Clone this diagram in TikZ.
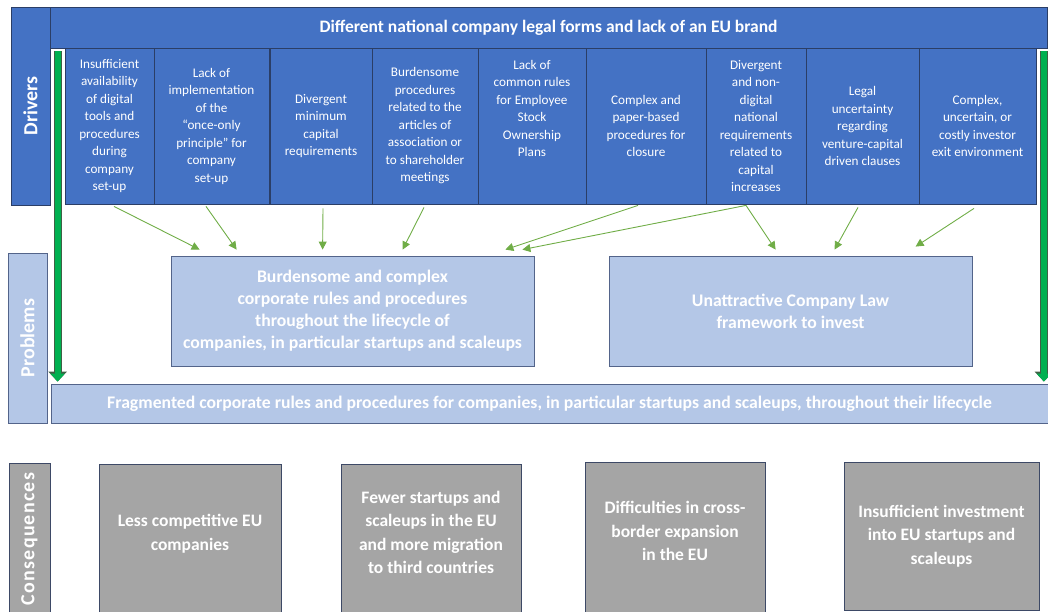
\documentclass[tikz,border=0pt]{standalone}
\usepackage{fontspec}
\usepackage{graphicx}
\setmainfont{Carlito}
\newfontfamily\spacedfont[LetterSpace=6]{Carlito}
\usetikzlibrary{arrows.meta,calc,positioning}

\definecolor{drvblue}{HTML}{4472C4}
\definecolor{drvline}{HTML}{2B3E66}
\definecolor{prbfill}{HTML}{B4C7E7}
\definecolor{prbline}{HTML}{53648A}
\definecolor{csqfill}{HTML}{A5A5A5}
\definecolor{csqline}{HTML}{3D4966}
\definecolor{lightgreen}{HTML}{70AD47}
\definecolor{boldgreen}{HTML}{00B050}
\definecolor{darkrim}{HTML}{3F5F45}

\tikzset{
  drvbox/.style={draw=drvline, fill=drvblue, text=white, align=center, inner sep=0pt, line width=0.8pt, minimum height=156pt, font=\fontsize{13.2}{17.5}\selectfont},
  sidelabel/.style={draw=drvline, inner sep=0pt, line width=0.8pt, text=white, font=\fontsize{20}{24}\selectfont\bfseries},
  prbbox/.style={draw=prbline, fill=prbfill, text=white, align=center, inner sep=0pt, line width=0.8pt, font=\fontsize{17.7}{22}\selectfont\bfseries},
  csqbox/.style={draw=csqline, fill=csqfill, text=white, align=center, inner sep=0pt, line width=0.8pt, font=\fontsize{17.5}{23.5}\selectfont\bfseries},
  thinarr/.style={draw=lightgreen, line width=0.9pt, -{Triangle[width=8pt,length=8pt]}},
  bigarr/.style={draw=boldgreen, line width=6pt, -{Triangle[width=14pt,length=8pt]}, preaction={draw=darkrim, line width=8pt, -{Triangle[width=18pt,length=10pt]}}}
}

\begin{document}
\begin{tikzpicture}[x=1pt,y=-1pt]
\useasboundingbox (0,0) rectangle (1048,612);

\node[sidelabel, fill=drvblue, minimum width=39pt, minimum height=198pt] (drivers) at (30.5,106) {\rotatebox{90}{Drivers}};
\node[sidelabel, draw=prbline, fill=prbfill, minimum width=39pt, minimum height=170pt] (problems) at (27.5,338) {\rotatebox{90}{Problems}};
\node[sidelabel, draw=csqline, fill=csqfill, minimum width=41pt, minimum height=151pt] (consequences) at (29.5,539) {\rotatebox{90}{\spacedfont\bfseries Consequences}};

\node[drvbox, minimum width=997pt, minimum height=41pt, font=\fontsize{17.5}{20}\selectfont\bfseries] (brand) at (548.5,27.5) {Different national company legal forms and lack of an EU brand};

\node[drvbox, minimum width=89pt] (d1) at (109.5,126) {Insufficient\\availability\\of digital\\tools and\\procedures\\during\\company\\set-up};
\node[drvbox, minimum width=115pt] (d2) at (211.5,126) {Lack of\\implementation\\of the\\“once-only\\principle” for\\company\\set-up};
\node[drvbox, minimum width=102pt] (d3) at (321,126) {Divergent\\minimum\\capital\\requirements};
\node[drvbox, minimum width=106pt] (d4) at (425,126) {Burdensome\\procedures\\related to the\\articles of\\association or\\to shareholder\\meetings};
\node[drvbox, minimum width=108pt] (d5) at (532,126) {Lack of\\common rules\\for Employee\\Stock\\Ownership\\Plans\\ \mbox{}\\ \mbox{}};
\node[drvbox, minimum width=120pt] (d6) at (646,126) {Complex and\\paper-based\\procedures for\\closure};
\node[drvbox, minimum width=100pt] (d7) at (756,126) {Divergent\\and non-\\digital\\national\\requirements\\related to\\capital\\increases};
\node[drvbox, minimum width=113pt] (d8) at (862.5,126) {Legal\\uncertainty\\regarding\\venture-capital\\driven clauses};
\node[drvbox, minimum width=117pt] (d9) at (977.5,126) {Complex,\\uncertain, or\\costly investor\\exit environment};

\node[prbbox, minimum width=363pt, minimum height=110pt] (p1) at (352.5,311) {Burdensome and complex\\corporate rules and procedures\\throughout the lifecycle of\\companies, in particular startups and scaleups};
\node[prbbox, minimum width=363pt, minimum height=110pt] (p2) at (790.5,311) {Unattractive Company Law\\framework to invest};
\node[prbbox, minimum width=997pt, minimum height=39pt] (frag) at (549.5,403.5) {Fragmented corporate rules and procedures for companies, in particular startups and scaleups, throughout their lifecycle};

\node[csqbox, minimum width=182pt, minimum height=152pt] (c1) at (190,540) {Less competitive EU\\companies\\[-8pt]};
\node[csqbox, minimum width=180pt, minimum height=152pt] (c2) at (431,540) {Fewer startups and\\scaleups in the EU\\and more migration\\to third countries\\[-8pt]};
\node[csqbox, minimum width=180pt, minimum height=154pt] (c3) at (675,539) {Difficulties in cross-\\border expansion\\in the EU\\[-8pt]};
\node[csqbox, minimum width=195pt, minimum height=148pt] (c4) at (941.5,536) {Insufficient investment\\into EU startups and\\scaleups};

\draw[thinarr] ($(d1.south)+(4.5,2)$) -- ($(p1.north west)+(29,-6)$);
\draw[thinarr] ($(d2.south)+(-5.5,2)$) -- ($(p1.north west)+(66,-6)$);
\draw[thinarr] ($(d3.south)+(2,4)$) -- ($(p1.north west)+(152,-6)$);
\draw[thinarr] ($(d4.south)+(-1,3)$) -- ($(p1.north west)+(232,-6)$);
\draw[thinarr] ($(d6.south)+(-8,1)$) -- ($(p1.north east)+(-29,-6)$);
\draw[thinarr] ($(d7.south)+(-10,1)$) -- ($(p1.north east)+(-12,-6)$);
\draw[thinarr] ($(d7.south)+(-10,1)$) -- ($(p2.north west)+(167,-6)$);
\draw[thinarr] ($(d8.south)+(-4.5,3)$) -- ($(p2.north west)+(226,-6)$);
\draw[thinarr] ($(d9.south)+(-3.5,4)$) -- ($(p2.north west)+(307,-9)$);

\draw[bigarr] ($(brand.south west)+(8,3)$) -- ($(frag.north west)+(7,-2)$);
\draw[bigarr] ($(brand.south east)+(-3.5,3)$) -- ($(frag.north east)+(-4.5,-2)$);
\end{tikzpicture}
\end{document}
